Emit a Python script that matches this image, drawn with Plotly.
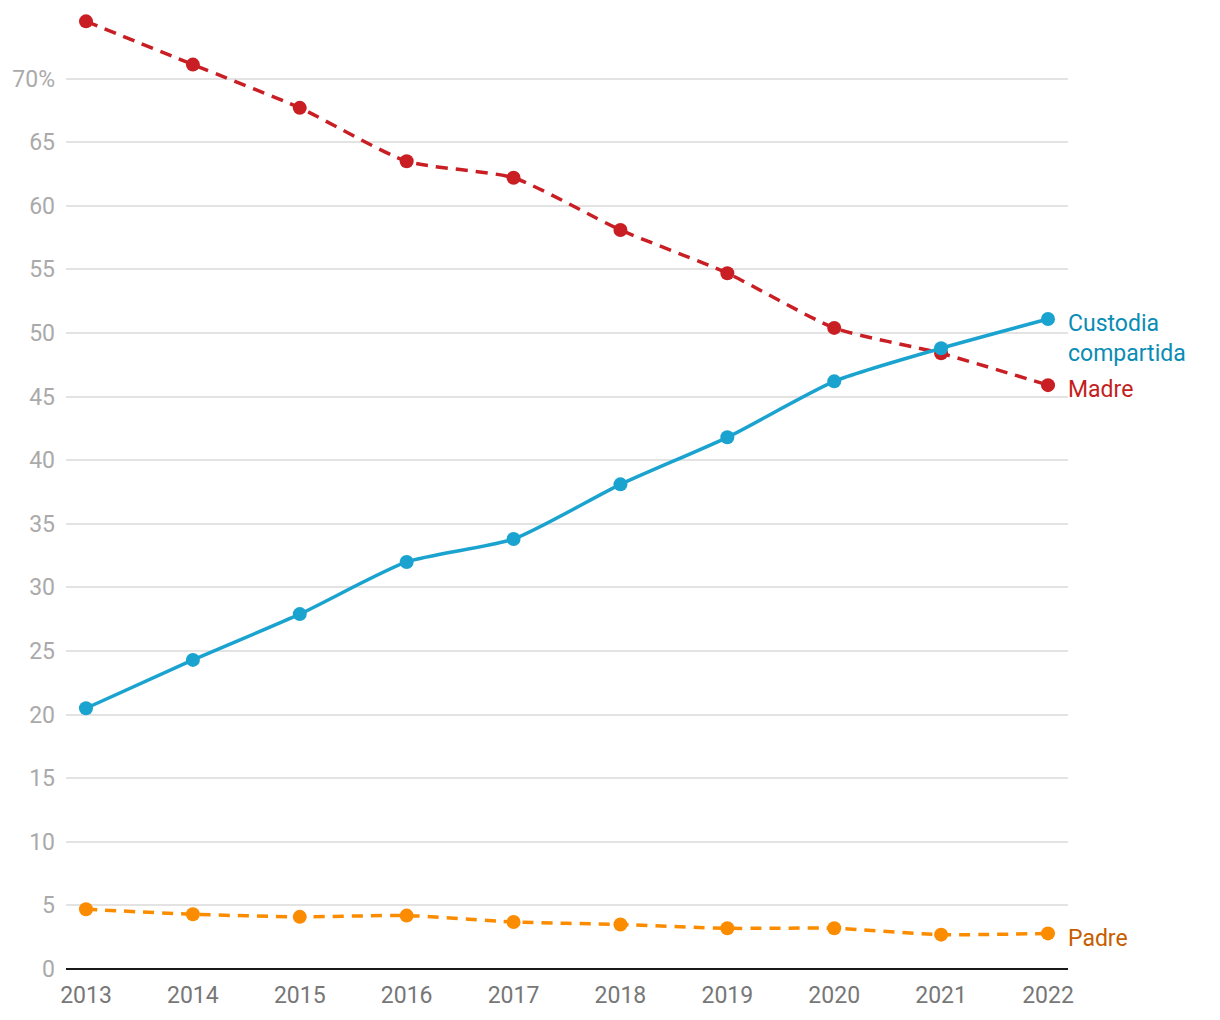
import plotly.graph_objects as go

years = [2013, 2014, 2015, 2016, 2017, 2018, 2019, 2020, 2021, 2022]
madre = [74.5, 71.1, 67.7, 63.5, 62.2, 58.1, 54.7, 50.4, 48.4, 45.9]
custodia = [20.5, 24.3, 27.9, 32.0, 33.8, 38.1, 41.8, 46.2, 48.8, 51.1]
padre = [4.7, 4.3, 4.1, 4.2, 3.7, 3.5, 3.2, 3.2, 2.7, 2.8]

y_ticks = [0, 5, 10, 15, 20, 25, 30, 35, 40, 45, 50, 55, 60, 65, 70]
y_labels = [str(v) for v in y_ticks[:-1]] + ["70%"]

series = [
    ("Madre", madre, "#c91f24", "12px,8px"),
    ("Custodia compartida", custodia, "#1ba3d0", "solid"),
    ("Padre", padre, "#fb8c00", "11px,8px"),
]

fig = go.Figure()
for name, vals, col, dash in series:
    fig.add_trace(go.Scatter(
        x=years, y=vals, mode="lines+markers", name=name,
        line=dict(color=col, width=3.5, dash=dash, shape="spline", smoothing=0.6),
        marker=dict(color=col, size=14),
        cliponaxis=False, showlegend=False,
    ))

FS = 24
fig.add_annotation(x=2022, y=custodia[-1], text="Custodia<br>compartida",
                   xref="x", yref="y", xanchor="left", yanchor="top", yshift=11, xshift=18,
                   showarrow=False, align="left",
                   font=dict(color="#0a8cb5", size=FS - 1, family="Roboto"))
fig.add_annotation(x=2022, y=madre[-1], text="Madre",
                   xref="x", yref="y", xanchor="left", yanchor="middle", xshift=18, yshift=-4,
                   showarrow=False, font=dict(color="#c41d1d", size=FS - 1, family="Roboto"))
fig.add_annotation(x=2022, y=padre[-1], text="Padre",
                   xref="x", yref="y", xanchor="left", yanchor="middle", xshift=18, yshift=-5,
                   showarrow=False, font=dict(color="#c75d00", size=FS - 1, family="Roboto"))

fig.update_layout(
    width=1204, height=1004,
    margin=dict(l=58, r=144, t=7, b=43),
    plot_bgcolor="white", paper_bgcolor="white",
    font=dict(family="Roboto"),
    xaxis=dict(range=[2012.813, 2022.187], tickvals=years, showgrid=False,
               ticks="", tickfont=dict(size=FS - 1, color="#777777"),
               showline=False, zeroline=False, ticklabelstandoff=10, automargin=False),
    yaxis=dict(range=[0, 75], tickvals=y_ticks, ticktext=y_labels,
               showgrid=True, gridcolor="#e3e3e3", gridwidth=1.5,
               zeroline=True, zerolinecolor="#1a1a1a", zerolinewidth=2,
               ticks="", tickfont=dict(size=FS - 1, color="#aaaaaa"),
               ticklabelstandoff=10, automargin=False),
)

fig.write_html("out.html")
